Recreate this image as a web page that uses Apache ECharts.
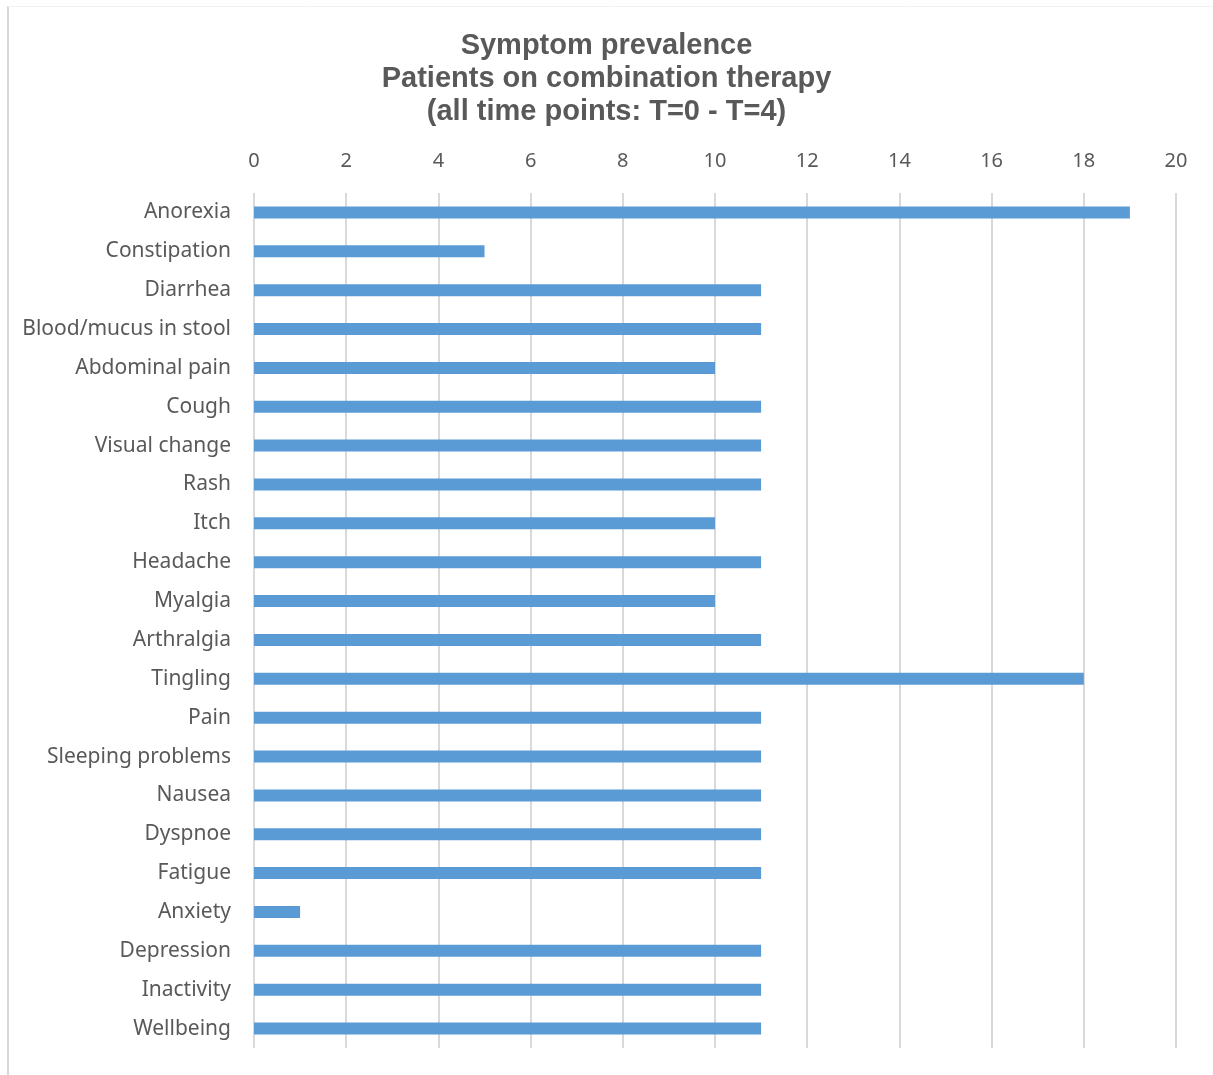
<!DOCTYPE html>
<html>
<head>
<meta charset="utf-8">
<script src="https://cdn.jsdelivr.net/npm/echarts@6/dist/echarts.min.js"></script>
<style>html,body{margin:0;padding:0;background:#fff;}#c{width:1213px;height:1075px;}</style>
</head>
<body>
<div id="c"></div>
<script>
const titleLines = ['Symptom prevalence', 'Patients on combination therapy', '(all time points: T=0 - T=4)'];
const categories = ['Anorexia','Constipation','Diarrhea','Blood/mucus in stool','Abdominal pain','Cough','Visual change','Rash','Itch','Headache','Myalgia','Arthralgia','Tingling','Pain','Sleeping problems','Nausea','Dyspnoe','Fatigue','Anxiety','Depression','Inactivity','Wellbeing'];
const values = [19,5,11,11,10,11,11,11,10,11,10,11,18,11,11,11,11,11,1,11,11,11];
const xMin = 0, xMax = 20, xStep = 2;

const chart = echarts.init(document.getElementById('c'), null, {renderer:'canvas'});
chart.setOption({
  backgroundColor:'#ffffff',
  animation:false,
  title:{
    text: titleLines.join('\n'),
    left:'center', top:24,
    textStyle:{fontFamily:'Liberation Sans, Arial, sans-serif', fontWeight:'bold', fontSize:29, color:'#595959', lineHeight:33}
  },
  graphic:[
    {type:'line', shape:{x1:8, y1:6, x2:8, y2:1075}, style:{stroke:'#d9d9d9', lineWidth:2}},
    {type:'line', shape:{x1:8, y1:6.5, x2:1213, y2:6.5}, style:{stroke:'#f2f2f2', lineWidth:1}}
  ],
  grid:{left:254, right:37, top:193, bottom:27, containLabel:false},
  xAxis:{
    type:'value', position:'top', min:xMin, max:xMax, interval:xStep,
    axisLine:{show:false}, axisTick:{show:false},
    axisLabel:{color:'#595959', fontSize:20, fontFamily:'Noto Sans, sans-serif', margin:22},
    splitLine:{show:true, lineStyle:{color:'#d9d9d9', width:2}}
  },
  yAxis:{
    type:'category', data:categories, inverse:true,
    axisLine:{show:false}, axisTick:{show:false},
    axisLabel:{color:'#595959', fontSize:21, fontFamily:'Noto Sans, sans-serif', margin:23}
  },
  series:[{
    type:'bar', data:values, barWidth:12,
    itemStyle:{color:'#5b9bd5'}
  }]
});
</script>
</body>
</html>
